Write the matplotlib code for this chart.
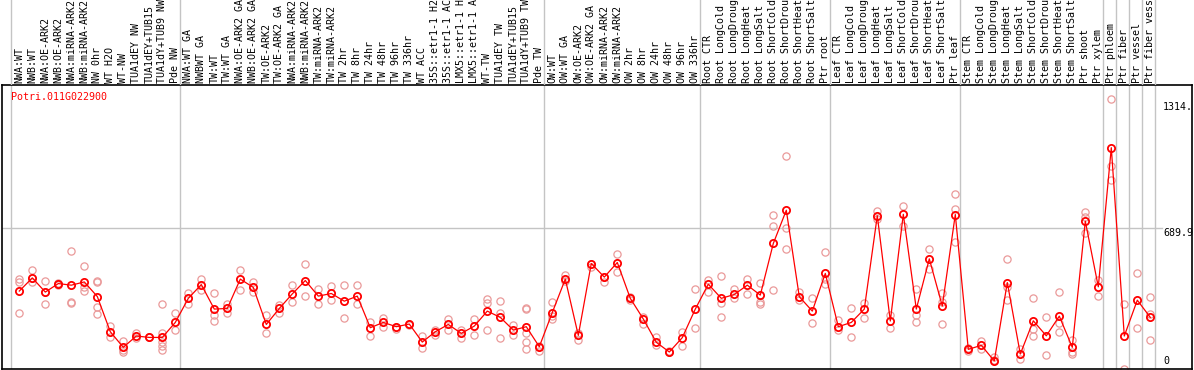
import matplotlib.pyplot as plt
import numpy as np

''' Data read from the reference chart '''
labels = [
    "NWA:WT", "NWB:WT", "NWA:OE-ARK2", "NWB:OE-ARK2", "NWA:miRNA-ARK2", "NWB:miRNA-ARK2",
    "NW 0hr", "WT H2O", "WT-NW", "TUA1dEY NW", "TUA1dEY+TUB15", "TUA1dY+TUB9 NW", "Pde NW",
    "NWA:WT GA", "NWBWT GA", "TW:WT", "TW:WT GA", "NWA:OE-ARK2 GA", "NWB:OE-ARK2 GA",
    "TW:OE-ARK2", "TW:OE-ARK2 GA", "NWA:miRNA-ARK2", "NWB:miRNA-ARK2", "TW:miRNA-ARK2",
    "TW:miRNA-ARK2", "TW 2hr", "TW 8hr", "TW 24hr", "TW 48hr", "TW 96hr", "TW 336hr",
    "WT ACC", "35S::etr1-1 H2", "35S::etr1-1 AC", "LMX5::etr1-1 H", "LMX5::etr1-1 A",
    "WT-TW", "TUA1dEY TW", "TUA1dEY+TUB15", "TUA1dY+TUB9 TW", "Pde TW",
    "OW:WT", "OW:WT GA", "OW:OE-ARK2", "OW:OE-ARK2 GA", "OW:miRNA-ARK2", "OW:miRNA-ARK2",
    "OW 2hr", "OW 8hr", "OW 24hr", "OW 48hr", "OW 96hr", "OW 336hr",
    "Root CTR", "Root LongCold", "Root LongDroug", "Root LongHeat", "Root LongSalt",
    "Root ShortCold", "Root ShortDrou", "Root ShortHeat", "Root ShortSalt", "Ptr root",
    "Leaf CTR", "Leaf LongCold", "Leaf LongDroug", "Leaf LongHeat", "Leaf LongSalt",
    "Leaf ShortCold", "Leaf ShortDrou", "Leaf ShortHeat", "Leaf ShortSalt", "Ptr leaf",
    "Stem CTR", "Stem LongCold", "Stem LongDroug", "Stem LongHeat", "Stem LongSalt",
    "Stem ShortCold", "Stem ShortDrou", "Stem ShortHeat", "Stem ShortSalt",
    "Ptr shoot", "Ptr xylem", "Ptr phloem", "Ptr fiber", "Ptr vessel", "Ptr fiber vess",
]

means = [
    380, 445, 375, 417, 409, 425, 353, 179, 102, 158, 151, 151, 225, 344,
    412, 291, 294, 439, 398, 215, 294, 366, 432, 355, 368, 330, 355, 199,
    225, 204, 217, 128, 179, 215, 171, 207, 281, 250, 187, 204, 105,
    274, 439, 161, 516, 449, 521, 344, 242, 127, 79, 150, 291,
    414, 344, 363, 409, 360, 615, 779, 352, 281, 467,
    204, 225, 291, 752, 232, 759, 291, 539, 306, 758,
    92, 112, 35, 422, 69, 233, 159, 256, 102,
    725, 401, 1088, 158, 335, 250,
]

replicates = [
    [440, 425, 270], [486, 425, 445], [432, 314, 375], [417, 410, 420],
    [580, 320, 325], [503, 401, 381], [429, 302, 265, 425], [207, 154],
    [133, 89, 80], [171, 150], [151, 155], [315, 171, 130, 110, 89],
    [270, 187], [371, 315],
    [441, 384], [368, 261, 230], [315, 273], [486, 384], [425, 373],
    [260, 171], [310, 274], [409, 324], [513, 358], [388, 315],
    [404, 335], [409, 246], [409, 315], [228, 159],
    [245, 204], [204, 195], [217, 210], [158, 97], [190, 165],
    [240, 187], [190, 150], [240, 164], [342, 319, 187], [329, 273, 146],
    [212, 163], [296, 290, 171, 130, 92], [85, 110],
    [327, 240, 255], [457, 430], [138, 175], [516, 500], [449, 425],
    [562, 475], [350, 335], [250, 217], [151, 115], [79, 82],
    [179, 110], [388, 196],
    [437, 376], [453, 322, 253], [388, 344], [439, 365], [420, 324, 315],
    [754, 703, 384], [1048, 693, 587], [375, 335], [344, 220], [575, 417, 440],
    [237, 187], [294, 154], [322, 245], [774, 738], [261, 200],
    [802, 703], [388, 260, 225], [590, 489], [368, 324, 215],
    [861, 787, 620],
    [100, 85], [135, 95], [53, 40], [536, 401, 335], [92, 43],
    [348, 191, 158], [250, 62], [375, 220, 179], [138, 80, 69],
    [769, 745, 667], [437, 355], [1329, 999, 930], [315, -3], [467, 200],
    [353, 265, 138],
]

group_edges = [0, 13, 41, 53, 63, 73, 84, 85, 86, 87, 88]
gene = "Potri.011G022900"
tick_values = [1314, 689.9, 0]
tick_texts = ["1314.", "689.9", "0"]

''' Figure setup (pixel based layout) '''
W, H = 1194, 370
fig = plt.figure(figsize=(W / 100, H / 100), dpi=100)
font = dict(family="DejaVu Sans Mono", size=7.2)

x0 = (2 - 19.3) / 13
x1 = (1192 - 19.3) / 13
k = 689.9 / (368 - 228.3)

ax = fig.add_axes([2 / W, 1 / H, 1190 / W, 284 / H])
ax.set_xlim(x0, x1)
ax.set_ylim((368 - 369) * k, (368 - 85) * k)
ax.set_xticks([])
ax.set_yticks([])
for s in ax.spines.values():
    s.set_color("black")
    s.set_linewidth(1.2)

lab = fig.add_axes([2 / W, 285 / H, 1190 / W, 85 / H])
lab.set_xlim(x0, x1)
lab.set_ylim(0, 1)
lab.axis("off")

''' Gray separators '''
for e in group_edges:
    ax.axvline(e - 0.66, color="#c4c4c4", lw=1.0, zorder=0)
    lab.axvline(e - 0.66, color="#c4c4c4", lw=1.0, zorder=0)
ax.plot([x0, (1162 - 19.3) / 13], [689.9, 689.9], color="#c4c4c4", lw=1.0, zorder=0)

''' Labels '''
for i, t in enumerate(labels):
    lab.text(i, 2 / 85, t, rotation=90, ha="center", va="bottom", color="black", **font)

''' Points '''
xs = np.arange(len(means))
rx, ry = [], []
for i, r in enumerate(replicates):
    rx += [i] * len(r)
    ry += r
ax.plot(rx, ry, linestyle="None", marker="o", ms=5.2, mfc="none", mec="#ea9a9a",
        mew=0.9, zorder=2, clip_on=True)
ax.plot(xs, means, color="#ff0000", lw=0.9, zorder=3)
ax.plot(xs, means, linestyle="None", marker="o", ms=5.2, mfc="none", mec="#ff0000",
        mew=1.3, zorder=4)

ax.text(9.3 / 1190, 1 - (97 - 85) / 284, gene, transform=ax.transAxes, color="#ff0000",
        ha="left", va="center", **font)

tx = (1163 - 19.3) / 13
ax.text(tx, tick_values[0], tick_texts[0], ha="left", va="top", **font)
ax.text(tx, tick_values[1], tick_texts[1], ha="left", va="top", **font)
ax.text(tx, tick_values[2] + 2 * k, tick_texts[2], ha="left", va="bottom", **font)

fig.savefig("out.png", dpi=100)
